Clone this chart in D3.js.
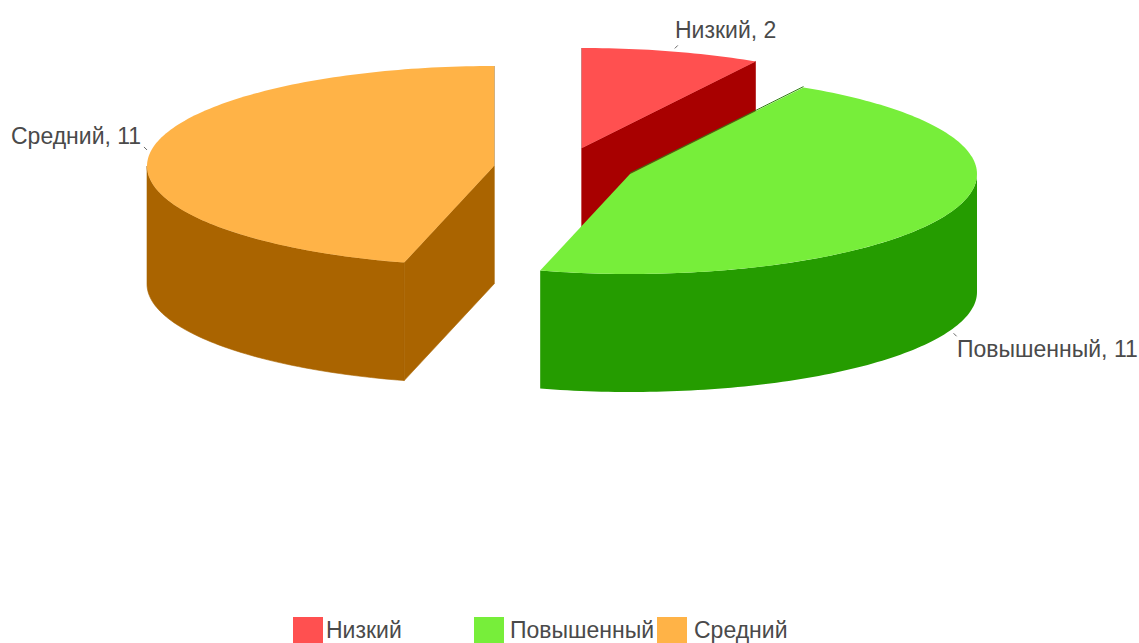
<!DOCTYPE html>
<html lang="ru">
<head>
<meta charset="utf-8">
<script src="https://cdn.jsdelivr.net/npm/d3@7"></script>
<style>
html,body{margin:0;padding:0;background:#fff;overflow:hidden}
text{font-family:"Liberation Sans",Arial,sans-serif;font-size:23px;fill:#4a4a4a}
</style>
</head>
<body>
<svg id="chart" width="1139" height="643"></svg>
<script>
const categories = ["Низкий", "Повышенный", "Средний"];
const values = [2, 11, 11];
const topColors = ["#ff5050", "#77ee3a", "#ffb347"];
const wallColors = ["#a80000", "#259c00", "#aa6400"];

const W = 1139, H = 643;
const RX = 347, RY = 100, DEPTH = 118;
const centers = [[582, 148], [630, 174], [494, 166]];
const labelPos = [[675, 38], [957, 357], [11, 144]];
const legendX = [293, 474, 657];
const legendTextX = [326, 510, 694];

const svg = d3.select("#chart");
const arcs = d3.pie().sort(null)(values);

function pt(c, a, dy = 0) {
  return [c[0] + RX * Math.sin(a), c[1] - RY * Math.cos(a) + dy];
}
function arcPts(c, a0, a1, dy = 0) {
  const n = Math.max(2, Math.ceil(Math.abs(a1 - a0) / 0.02));
  return d3.range(n + 1).map(i => pt(c, a0 + (a1 - a0) * i / n, dy));
}
const line = d3.line();

const slices = arcs.map((d, i) => ({ d, i, c: centers[i] }));

function drawWalls(s) {
  const col = wallColors[s.i];
  const g = svg.append("g").attr("fill", col).attr("stroke", col).attr("stroke-width", 0.6);
  const { startAngle: a0, endAngle: a1 } = s.d;
  // outer wall: only the front half of the rim can be seen
  const lo = Math.max(a0, Math.PI / 2), hi = Math.min(a1, 1.5 * Math.PI);
  if (hi > lo) {
    g.append("path").attr("d", line([
      ...arcPts(s.c, lo, hi),
      ...arcPts(s.c, hi, lo, DEPTH)
    ]) + "Z");
  }
  // radial faces
  [a0, a1].forEach(a => {
    const p = pt(s.c, a);
    g.append("path").attr("d", line([
      s.c, p, [p[0], p[1] + DEPTH], [s.c[0], s.c[1] + DEPTH]
    ]) + "Z");
  });
}
function drawTop(s) {
  const { startAngle: a0, endAngle: a1 } = s.d;
  svg.append("path")
    .attr("fill", topColors[s.i])
    .attr("d", line([s.c, ...arcPts(s.c, a0, a1)]) + "Z");
}

// back-to-front painting: red, orange, green
const red = slices[0], green = slices[1], orange = slices[2];
drawWalls(red); drawTop(red);
drawWalls(orange); drawTop(orange);

// green has no visible radial faces, only its rim
{
  const { startAngle: a0, endAngle: a1 } = green.d;
  const lo = Math.max(a0, Math.PI / 2), hi = Math.min(a1, 1.5 * Math.PI);
  svg.append("path").attr("fill", wallColors[1])
    .attr("d", line([...arcPts(green.c, lo, hi), ...arcPts(green.c, hi, lo, DEPTH)]) + "Z");
  const e = pt(green.c, a0);
  svg.append("path").attr("fill", "none")
    .attr("stroke", "#2f7a12").attr("stroke-width", 1)
    .attr("d", line([[green.c[0], green.c[1] - 0.8], [e[0], e[1] - 0.8]]));
  drawTop(green);
}

// data labels + tiny leader ticks
slices.forEach(s => {
  const mid = (s.d.startAngle + s.d.endAngle) / 2;
  const inFront = Math.cos(mid) < 0;
  const p = pt(s.c, mid, inFront ? DEPTH : 0);
  const dx = Math.sin(mid) >= 0 ? 3 : -3, dy = inFront ? 3 : -3;
  svg.append("path").attr("fill", "none").attr("stroke", "#666").attr("stroke-width", 1)
    .attr("d", line([[p[0] + dx, p[1] + dy], [p[0] + 2 * dx, p[1] + 2 * dy]]));
  svg.append("text")
    .attr("x", labelPos[s.i][0]).attr("y", labelPos[s.i][1])
    .text(`${categories[s.i]}, ${values[s.i]}`);
});

// legend
const legend = svg.append("g").selectAll("g").data(categories).join("g");
legend.append("rect")
  .attr("x", (d, i) => legendX[i]).attr("y", 617)
  .attr("width", 30).attr("height", 26)
  .attr("fill", (d, i) => topColors[i]);
legend.append("text")
  .attr("x", (d, i) => legendTextX[i]).attr("y", 638)
  .text(d => d);
</script>
</body>
</html>
